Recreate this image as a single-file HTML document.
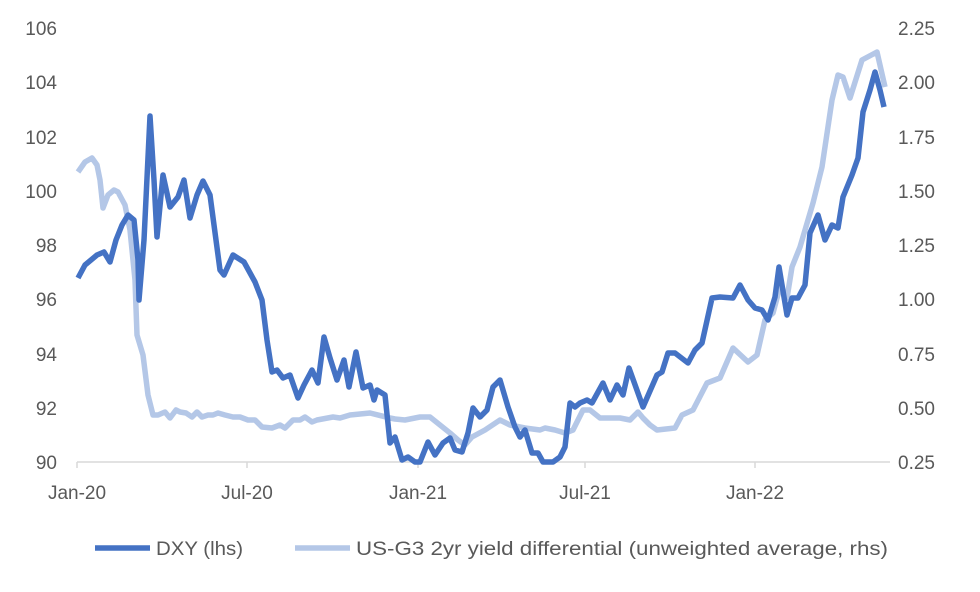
<!DOCTYPE html>
<html><head><style>
body{margin:0;background:#fff;}
svg text{font-family:"Liberation Sans",sans-serif;font-size:19px;fill:#595959;}
</style></head><body>
<svg width="980" height="587" xmlns="http://www.w3.org/2000/svg">
<rect width="980" height="587" fill="#fff"/>
<g text-anchor="end">
<text x="57" y="469">90</text><text x="57" y="415">92</text><text x="57" y="361">94</text><text x="57" y="306">96</text><text x="57" y="252">98</text><text x="57" y="198">100</text><text x="57" y="144">102</text><text x="57" y="89">104</text><text x="57" y="35">106</text>
</g>
<g text-anchor="start">
<text x="898" y="469">0.25</text><text x="898" y="415">0.50</text><text x="898" y="361">0.75</text><text x="898" y="306">1.00</text><text x="898" y="252">1.25</text><text x="898" y="198">1.50</text><text x="898" y="144">1.75</text><text x="898" y="89">2.00</text><text x="898" y="35">2.25</text>
</g>
<line x1="77" y1="462" x2="890" y2="462" stroke="#d9d9d9" stroke-width="1.5"/>
<g stroke="#d9d9d9" stroke-width="1.5">
<line x1="77" y1="462" x2="77" y2="468"/><line x1="247" y1="462" x2="247" y2="468"/><line x1="418" y1="462" x2="418" y2="468"/><line x1="585" y1="462" x2="585" y2="468"/><line x1="755" y1="462" x2="755" y2="468"/>
</g>
<g text-anchor="middle">
<text x="77" y="499">Jan-20</text><text x="247" y="499">Jul-20</text><text x="418" y="499">Jan-21</text><text x="585" y="499">Jul-21</text><text x="755" y="499">Jan-22</text>
</g>
<polyline fill="none" stroke="#b4c7e7" stroke-width="5.5" stroke-linejoin="round" points="78,172 85,162 92,158 97,165 100,180 103,208 108,195 114,190 118,192 125,205 130,230 135,280 137,335 143,355 148,395 153,415 158,415 165,412 170,418 176,410 180,412 186,413 192,417 197,412 202,417 208,415 213,415 218,413 225,415 233,417 240,417 248,420 255,420 262,427 272,428 280,425 285,428 293,420 300,420 305,417 312,422 317,420 333,417 340,418 350,415 370,413 390,418 395,419 405,420 420,417 430,417 440,425 450,433 458,440 465,445 472,437 485,430 500,420 510,425 525,428 540,430 545,428 555,430 565,433 573,430 578,420 583,410 590,410 600,418 610,418 620,418 630,420 638,412 643,418 650,425 657,430 675,428 682,415 693,410 707,383 720,378 733,348 748,362 757,355 765,320 773,313 780,287 787,298 792,267 800,247 813,203 822,167 832,100 838,75 843,77 850,98 862,60 877,52 885,87"/>
<polyline fill="none" stroke="#4472c4" stroke-width="5.5" stroke-linejoin="round" points="78,278 85,265 97,255 104,252 110,262 116,240 122,225 128,215 134,220 138,260 139,300 144,240 150,116 154,180 157,237 163,175 170,207 178,197 184,180 190,218 197,195 203,181 210,195 220,270 224,275 233,255 244,262 255,282 262,300 267,340 272,372 277,370 283,378 290,375 298,398 304,385 312,370 318,383 324,337 330,358 337,380 344,360 349,387 356,352 363,388 370,385 374,400 377,390 385,395 390,443 395,437 402,460 408,457 415,462 420,462 428,442 435,455 443,443 450,438 455,450 462,452 468,433 473,408 480,417 487,410 493,387 500,380 508,407 515,427 520,437 525,430 532,453 538,453 543,462 553,462 560,457 565,447 570,403 575,407 580,403 587,400 592,403 603,383 610,400 617,385 623,395 629,368 643,407 657,375 662,372 668,353 675,353 688,363 695,350 702,343 712,298 720,297 733,298 740,285 748,300 755,308 762,310 768,320 775,297 779,267 787,315 792,298 798,298 805,285 810,233 818,215 825,240 832,225 838,228 843,197 852,175 858,158 863,112 870,90 875,72 880,90 884,107"/>
<line x1="95" y1="548" x2="150" y2="548" stroke="#4472c4" stroke-width="5.5"/>
<text x="156" y="555" textLength="87" lengthAdjust="spacingAndGlyphs">DXY (lhs)</text>
<line x1="295" y1="548" x2="350" y2="548" stroke="#b4c7e7" stroke-width="5.5"/>
<text x="356" y="555" textLength="532" lengthAdjust="spacingAndGlyphs">US-G3 2yr yield differential (unweighted average, rhs)</text>
</svg>
</body></html>
